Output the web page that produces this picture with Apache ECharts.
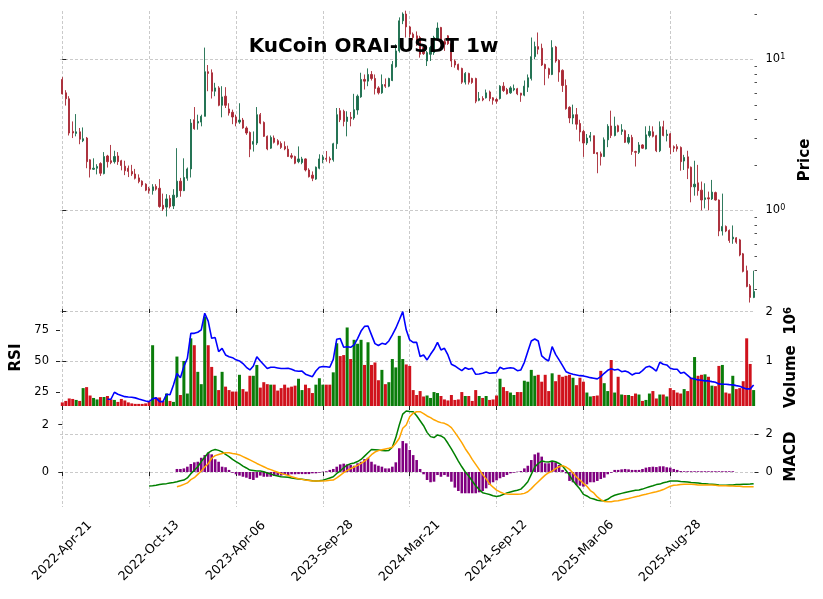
<!DOCTYPE html>
<html><head><meta charset="utf-8">
<script src="https://cdn.jsdelivr.net/npm/echarts@6/dist/echarts.min.js"></script>
<style>html,body{margin:0;padding:0;background:#fff}#c{width:823px;height:599px}</style>
</head><body><div id="c"></div>
<script>
// ---- tick labels (weekly candles, index of week) ----
const tickLabels = ['2022-Apr-21','2022-Oct-13','2023-Apr-06','2023-Sep-28','2024-Mar-21','2024-Sep-12','2025-Mar-06','2025-Aug-28'];
const tickWeeks = [0,25,50,75,100,125,150,175];

// ---- OHLC (USDT) ----
const opens = [
7.36,6.00,5.48,3.33,3.23,3.31,2.89,3.01,2.16,1.87,
1.90,2.04,1.75,2.29,2.13,2.10,2.29,2.13,1.96,1.90,
1.81,1.74,1.64,1.56,1.49,1.39,1.35,1.44,1.40,1.08,
1.05,1.20,1.07,1.23,1.56,1.35,1.63,1.88,3.98,3.78,
3.84,4.19,8.28,8.15,6.15,6.47,4.96,5.70,4.69,4.46,
4.15,3.84,3.96,3.51,3.28,2.74,2.79,4.30,3.82,3.09,
2.58,3.01,2.89,2.77,2.65,2.54,2.30,2.27,2.10,2.07,
2.19,1.85,1.71,1.61,1.90,2.16,2.21,2.20,2.16,2.76,
4.57,4.53,3.88,4.13,4.09,4.62,5.64,7.36,7.17,7.94,
7.47,6.47,6.00,6.81,6.64,7.24,8.94,11.37,18.0,19.95,
16.4,14.68,14.31,13.95,11.96,9.75,10.80,11.08,13.59,16.26,
13.1,14.31,12.7,9.75,9.26,8.71,7.06,8.07,7.47,7.47,
5.36,5.50,5.56,6.08,5.56,5.42,5.50,6.64,6.31,6.00,
6.28,6.38,5.97,5.79,6.54,7.47,10.42,12.14,11.84,9.26,
8.67,7.94,12.07,9.85,8.45,6.71,4.81,4.09,4.30,3.76,
3.33,2.79,3.04,3.12,2.41,2.37,2.27,2.93,3.62,3.13,
3.63,3.33,3.37,2.82,3.04,2.45,2.42,2.71,2.55,3.13,
3.31,3.12,2.48,3.58,3.13,3.21,2.64,2.64,2.61,2.12,
2.26,1.93,1.43,1.52,1.36,1.18,1.21,1.19,1.31,1.17,
0.729,0.782,0.736,0.647,0.657,0.637,0.515,0.398,0.316,0.265];
const closes = [
5.90,5.48,3.25,3.25,3.31,2.96,2.98,2.10,1.87,1.90,
1.95,1.76,2.27,2.10,2.07,2.27,2.10,1.98,1.83,1.81,
1.74,1.63,1.55,1.47,1.36,1.35,1.43,1.38,1.06,1.02,
1.19,1.06,1.26,1.56,1.35,1.65,1.88,3.78,3.47,3.88,
4.19,8.28,8.07,6.15,6.47,4.96,5.64,4.96,4.41,4.15,
3.80,3.96,3.51,3.25,2.54,2.86,4.30,3.78,3.09,2.55,
3.04,2.82,2.74,2.61,2.55,2.27,2.25,2.05,2.19,2.19,
1.85,1.67,1.63,1.93,2.19,2.25,2.18,2.16,2.76,4.30,
3.98,3.88,4.15,4.05,4.64,5.70,7.36,7.17,7.94,7.47,
6.41,6.00,6.81,6.64,7.47,9.26,11.37,18.0,19.95,16.4,
14.68,13.95,12.59,10.80,10.9,11.08,11.96,13.95,16.1,12.92,
12.59,12.7,9.75,9.17,8.58,7.06,8.07,7.06,7.03,5.28,
5.50,5.39,6.00,5.50,5.36,5.28,6.64,6.21,5.91,6.47,
6.41,5.91,5.79,6.64,7.55,10.42,12.14,11.66,9.17,8.67,
7.94,11.96,9.75,8.23,6.71,4.71,4.09,4.30,3.72,3.30,
2.79,3.01,3.12,2.38,2.36,2.27,2.93,3.60,3.13,3.60,
3.33,3.42,2.82,3.04,2.45,2.42,2.71,2.58,3.16,3.33,
3.09,2.48,3.58,3.13,3.19,2.61,2.58,2.55,2.10,2.24,
1.90,1.43,1.49,1.35,1.17,1.21,1.19,1.32,1.17,0.729,
0.782,0.729,0.631,0.664,0.615,0.506,0.394,0.313,0.265,0.29];
const highs = [
7.62,6.25,5.70,3.88,4.34,3.51,3.54,3.06,2.18,2.21,
2.02,2.08,2.43,2.33,2.71,2.48,2.43,2.16,2.13,1.98,
2.00,1.88,1.73,1.58,1.51,1.43,1.49,1.49,1.61,1.29,
1.28,1.26,1.38,2.58,1.64,2.21,1.92,4.02,4.83,4.30,
4.30,11.96,9.17,8.58,6.99,6.64,6.64,6.54,5.12,4.64,
4.30,5.12,4.09,3.60,3.33,3.33,4.83,4.41,3.88,3.13,
3.13,3.13,2.96,2.86,2.86,2.68,2.39,2.30,2.65,2.26,
2.21,1.90,1.81,1.95,2.35,2.33,2.47,2.27,2.80,4.76,
4.76,4.64,4.53,4.48,5.91,5.85,8.15,7.94,8.71,8.36,
7.94,6.64,7.94,7.47,7.55,9.75,12.59,18.96,20.47,21.0,
16.68,15.06,15.3,14.31,12.27,11.37,12.27,14.31,17.55,16.4,
13.73,14.45,12.92,10.0,9.36,8.80,8.23,8.15,7.55,7.55,
6.08,5.70,6.31,6.21,5.62,5.56,6.74,7.06,6.47,6.64,
6.81,6.47,6.00,7.24,7.94,13.95,13.1,15.06,12.7,9.36,
8.80,13.38,12.27,10.0,8.58,7.36,4.89,5.01,4.76,3.98,
3.42,3.20,3.30,3.12,2.43,2.45,3.04,3.72,4.57,4.17,
3.69,3.72,3.42,3.20,3.16,2.48,2.83,2.74,3.60,3.63,
3.60,3.16,3.88,3.92,3.42,3.25,2.69,2.74,2.65,2.33,
2.48,1.95,2.13,2.00,1.55,1.51,1.33,1.59,1.33,1.18,
1.29,0.794,0.747,0.794,0.664,0.647,0.522,0.430,0.325,0.398];
const lows = [
5.85,4.94,3.13,3.01,3.09,2.74,2.83,1.90,1.65,1.85,
1.73,1.69,1.73,1.92,2.02,2.04,2.00,1.84,1.71,1.66,
1.69,1.60,1.51,1.43,1.34,1.29,1.27,1.35,1.04,0.99,
0.91,1.03,1.02,1.21,1.23,1.34,1.57,1.65,3.42,3.42,
3.60,4.19,6.15,5.50,5.70,4.89,4.13,4.76,4.24,3.72,
3.60,3.74,3.47,3.16,2.25,2.45,2.71,3.72,3.06,2.50,
2.55,2.77,2.69,2.55,2.50,2.26,2.19,2.02,2.05,2.02,
1.81,1.65,1.56,1.59,1.87,2.05,2.10,2.05,2.10,2.55,
3.84,3.60,3.09,3.60,3.98,4.30,5.56,6.31,6.64,7.24,
5.85,5.85,5.91,6.47,6.54,7.17,8.80,11.08,17.11,13.95,
13.95,13.38,12.27,10.26,10.7,9.03,9.75,10.7,13.25,12.59,
11.37,12.46,8.89,8.80,8.45,6.88,6.81,6.81,6.88,5.12,
5.28,5.28,5.50,5.28,5.01,5.09,5.42,6.08,5.85,5.91,
6.15,5.79,5.23,5.70,6.08,7.24,10.0,10.80,9.03,6.74,
7.47,7.86,9.50,7.10,6.08,4.64,3.78,3.72,3.42,2.86,
2.26,2.71,2.86,2.36,1.76,1.98,2.26,2.62,3.01,3.09,
3.28,3.16,2.79,2.74,2.33,1.95,2.36,2.55,2.53,3.04,
3.04,2.43,2.43,3.09,2.86,2.35,2.43,2.45,1.83,1.85,
1.61,1.13,1.25,1.25,1.00,1.03,1.00,1.17,1.16,0.674,
0.681,0.717,0.609,0.600,0.600,0.496,0.388,0.309,0.245,0.262];

// ---- volume (millions of ORAI) ----
const volumes = [
0.16,0.19,0.24,0.23,0.21,0.19,0.45,0.47,0.30,0.25,
0.22,0.27,0.27,0.29,0.22,0.21,0.17,0.23,0.20,0.16,
0.14,0.13,0.13,0.13,0.14,0.17,1.32,0.26,0.26,0.19,
0.34,0.19,0.17,1.09,0.31,1.00,0.34,1.46,1.32,0.78,
0.53,1.90,1.32,0.88,0.70,0.41,0.78,0.48,0.41,0.38,
0.38,0.72,0.43,0.38,0.70,0.70,0.92,0.46,0.57,0.53,
0.52,0.52,0.40,0.45,0.52,0.46,0.48,0.50,0.64,0.41,
0.52,0.45,0.35,0.52,0.65,0.52,0.52,0.52,0.77,1.36,
1.10,1.12,1.68,1.04,1.43,1.35,1.43,0.92,1.38,0.92,
0.97,0.61,0.82,0.53,0.57,1.04,0.87,1.51,1.04,0.93,
0.90,0.41,0.31,0.39,0.28,0.30,0.25,0.37,0.35,0.29,
0.22,0.20,0.31,0.21,0.22,0.37,0.29,0.29,0.19,0.41,
0.29,0.25,0.29,0.21,0.22,0.30,0.64,0.47,0.39,0.36,
0.31,0.37,0.37,0.60,0.58,0.82,0.70,0.72,0.58,0.72,
0.39,0.75,0.59,0.72,0.68,0.70,0.72,0.66,0.51,0.66,
0.58,0.36,0.28,0.29,0.30,0.80,0.55,0.39,1.02,0.36,
0.68,0.32,0.31,0.31,0.29,0.34,0.32,0.19,0.21,0.34,
0.39,0.24,0.32,0.32,0.28,0.45,0.41,0.36,0.34,0.43,
0.39,0.66,1.08,0.70,0.72,0.73,0.68,0.50,0.49,0.90,
0.92,0.36,0.34,0.70,0.43,0.45,0.59,1.46,0.94,0.41];

// ---- RSI (14), starts at week 13 ----
const rsiStart = 13;
const rsiVals = [
19.4,19.4,25.0,23.4,22.5,21.5,21.2,21.0,20.5,19.6,18.8,18.0,17.5,19.8,20.5,17.5,17.5,
23.4,23.0,30.9,40.0,36.7,45.6,52.2,72.2,72.2,73.1,75.0,88.3,82.0,68.2,68.8,57.6,60.2,
54.9,53.5,52.7,51.0,50.1,48.0,45.0,42.9,46.0,53.5,50.0,47.0,44.0,45.0,45.0,44.5,44.0,
44.0,44.2,43.5,42.3,41.8,42.0,39.5,38.5,37.5,42.0,45.0,45.6,45.4,45.0,51.4,67.5,68.0,
61.0,61.4,61.0,63.0,68.0,74.0,77.8,78.1,71.0,64.0,62.5,64.2,63.4,66.1,70.9,76.3,82.9,
89.6,75.0,66.9,65.0,65.0,53.6,54.9,50.9,55.4,59.4,65.0,58.9,60.2,54.9,47.4,46.1,44.2,
42.3,44.7,43.4,44.2,39.4,39.6,40.2,41.2,40.2,40.5,40.7,45.0,43.6,44.2,44.7,44.2,42.3,
42.9,49.0,57.6,66.1,67.7,66.1,54.1,51.7,50.1,61.6,55.4,50.9,46.3,41.5,40.2,39.4,38.9,
38.3,38.1,37.5,36.7,36.2,35.7,37.5,40.2,42.6,43.9,42.9,43.4,41.5,42.0,41.0,38.9,40.2,
40.2,42.3,45.0,45.8,44.2,42.0,49.0,47.4,46.9,44.2,43.4,43.4,40.2,41.0,38.6,36.2,35.7,
34.9,34.6,34.1,34.1,33.5,33.0,31.7,31.4,31.4,31.1,30.9,30.3,29.8,28.7,27.7,27.7,30.9];

// ---- MACD line, starts at week 25 ----
const macdStart = 25;
const macdVals = [
-0.59,-0.58,-0.56,-0.53,-0.51,-0.49,-0.46,-0.44,-0.41,-0.37,-0.34,-0.25,-0.07,0.07,0.22,
0.44,0.62,0.81,0.90,0.95,0.91,0.85,0.74,0.65,0.53,0.44,0.35,0.25,0.17,0.08,0.06,0.04,
0.04,0.01,-0.04,-0.08,-0.14,-0.17,-0.20,-0.21,-0.22,-0.25,-0.27,-0.29,-0.31,-0.33,-0.35,
-0.37,-0.38,-0.37,-0.35,-0.30,-0.25,-0.20,-0.06,0.04,0.18,0.29,0.35,0.38,0.44,0.53,0.67,
0.81,0.95,0.94,0.93,0.91,0.90,0.91,1.04,1.45,1.98,2.44,2.57,2.55,2.54,2.37,2.16,1.95,
1.67,1.49,1.45,1.56,1.52,1.43,1.21,0.97,0.72,0.46,0.22,0.00,-0.17,-0.38,-0.58,-0.74,
-0.87,-0.91,-0.95,-1.00,-1.03,-1.00,-0.94,-0.88,-0.84,-0.80,-0.77,-0.72,-0.58,-0.41,-0.10,
0.21,0.36,0.46,0.43,0.42,0.46,0.43,0.36,0.25,0.06,-0.13,-0.37,-0.55,-0.72,-0.94,-1.01,
-1.10,-1.14,-1.19,-1.21,-1.21,-1.15,-1.05,-0.98,-0.94,-0.90,-0.86,-0.83,-0.80,-0.77,-0.76,
-0.72,-0.67,-0.62,-0.58,-0.53,-0.51,-0.45,-0.42,-0.38,-0.38,-0.38,-0.40,-0.41,-0.42,-0.44,
-0.45,-0.46,-0.48,-0.49,-0.51,-0.52,-0.53,-0.55,-0.56,-0.56,-0.55,-0.55,-0.53,-0.53,-0.52,
-0.52,-0.51,-0.49];

// ---- signal line, starts at week 33 ----
const signalStart = 33;
const signalVals = [
-0.62,-0.58,-0.52,-0.46,-0.32,-0.24,-0.10,0.04,0.21,0.35,0.58,0.69,0.74,0.78,0.81,0.81,
0.78,0.76,0.72,0.65,0.58,0.51,0.44,0.36,0.29,0.22,0.15,0.10,0.04,-0.01,-0.06,-0.10,-0.15,
-0.20,-0.24,-0.28,-0.31,-0.34,-0.36,-0.38,-0.38,-0.38,-0.38,-0.37,-0.35,-0.34,-0.25,-0.14,
-0.03,0.07,0.14,0.21,0.28,0.36,0.46,0.58,0.73,0.84,0.90,0.94,0.97,1.00,1.04,1.21,1.42,
1.84,1.98,2.33,2.48,2.54,2.54,2.46,2.36,2.29,2.20,2.13,2.08,2.05,1.98,1.87,1.67,1.46,
1.24,0.98,0.77,0.53,0.32,0.11,-0.11,-0.29,-0.50,-0.64,-0.76,-0.84,-0.90,-0.93,-0.94,-0.94,
-0.94,-0.93,-0.90,-0.83,-0.70,-0.55,-0.41,-0.27,-0.13,-0.03,0.04,0.14,0.22,0.27,0.21,0.11,
-0.04,-0.21,-0.34,-0.48,-0.60,-0.78,-0.88,-1.05,-1.16,-1.24,-1.25,-1.25,-1.22,-1.21,-1.18,
-1.15,-1.12,-1.08,-1.04,-1.01,-0.97,-0.94,-0.90,-0.86,-0.83,-0.79,-0.74,-0.67,-0.60,-0.56,
-0.55,-0.53,-0.52,-0.52,-0.52,-0.53,-0.55,-0.55,-0.55,-0.55,-0.55,-0.56,-0.58,-0.58,-0.58,
-0.59,-0.59,-0.60,-0.60,-0.62,-0.62,-0.62,-0.62];

// ---- MACD histogram, starts at week 33 ----
const histStart = 33;
const histVals = [
0.16,0.16,0.19,0.28,0.42,0.51,0.54,0.75,0.89,1.02,0.93,0.67,0.54,0.28,0.25,0.11,-0.04,
-0.12,-0.19,-0.25,-0.30,-0.37,-0.42,-0.30,-0.19,-0.25,-0.25,-0.25,-0.21,-0.19,-0.19,-0.16,
-0.16,-0.12,-0.12,-0.11,-0.11,-0.11,-0.11,-0.07,-0.07,-0.04,0.02,0.04,0.11,0.16,0.28,0.40,
0.44,0.40,0.37,0.33,0.46,0.54,0.68,0.75,0.54,0.40,0.33,0.28,0.19,0.19,0.28,0.51,1.25,1.63,
1.51,1.16,0.89,0.63,0.16,-0.12,-0.42,-0.54,-0.51,-0.16,-0.25,-0.16,-0.25,-0.51,-0.82,-1.00,
-1.12,-1.12,-1.12,-1.12,-1.12,-1.07,-1.00,-0.86,-0.68,-0.54,-0.44,-0.33,-0.26,-0.16,-0.07,
-0.04,0.02,0.05,0.19,0.33,0.63,0.93,1.02,0.81,0.46,0.46,0.58,0.51,0.37,0.11,-0.07,-0.47,
-0.54,-0.68,-0.72,-0.77,-0.65,-0.54,-0.54,-0.47,-0.37,-0.30,-0.12,-0.04,0.11,0.11,0.14,
0.16,0.14,0.11,0.11,0.11,0.16,0.23,0.26,0.28,0.26,0.30,0.30,0.25,0.23,0.16,0.11,0.05,
0.04,0.04,0.04,0.04,0.04,0.04,0.04,0.04,0.04,0.04,0.04,0.04,0.04,0.04,0.04];

// ---------------- build ----------------
const FONT = 'DejaVu Sans';
const upC = '#1a6c4c', dnC = '#a82834';
const volUp = '#0a7d0a', volDn = '#d0121c';
const gridLine = {show: true, lineStyle: {color: '#bdbdbd', type: [3, 2], width: 0.8}};
const XMIN = -0.66, XMAX = 199.25;

function series(start, vals) { return vals.map((v, k) => [start + k, v]); }

function xAx(g, labels) {
  return {
    type: 'value', gridIndex: g, min: XMIN, max: XMAX,
    axisLine: {show: false},
    axisTick: {show: true, customValues: tickWeeks, length: 4, lineStyle: {color: '#222', width: 1}},
    axisLabel: {show: labels, customValues: tickWeeks, rotate: 45, align: 'center', verticalAlign: 'middle', margin: 44,
      fontFamily: FONT, fontSize: 12.6, color: '#000',
      formatter: v => tickLabels[tickWeeks.indexOf(Math.round(v))] || ''},
    splitLine: gridLine
  };
}
const lab = {fontFamily: FONT, fontSize: 11.5, color: '#000', margin: 11};
const tick = {show: true, length: 4, lineStyle: {color: '#222', width: 1}};
const nameStyle = {fontFamily: FONT, fontSize: 15, fontWeight: 'bold', color: '#000'};
const minorPrice = [0.3,0.4,0.5,0.6,0.7,0.8,0.9,2,3,4,5,6,7,8,9,20];

const candleData = opens.map((o, i) => [i, o, closes[i], lows[i], highs[i]]);
const volData = volumes.map((v, i) => ({value: [i, v], itemStyle: {color: closes[i] >= opens[i] ? volUp : volDn}}));

const option = {
  animation: false,
  backgroundColor: '#fff',
  grid: [
    {left: 60, right: 68.5, top: 11, height: 298, outerBoundsMode: 'none'},
    {left: 60, right: 68.5, top: 309, height: 97, outerBoundsMode: 'none'},
    {left: 60, right: 68.5, top: 406, height: 101, outerBoundsMode: 'none'}
  ],
  xAxis: [xAx(0, false), xAx(1, false), xAx(2, true)],
  yAxis: [
    {gridIndex: 0, type: 'log', logBase: 10, position: 'right', min: 0.222, max: 20.9,
     axisLine: {show: false}, axisTick: Object.assign({customValues: [1, 10]}, tick),
     axisLabel: Object.assign({customValues: [1, 10], formatter: v => '10{s|' + Math.round(Math.log10(v)) + '}',
       rich: {s: {fontFamily: FONT, fontSize: 8, verticalAlign: 'top', lineHeight: 8, color: '#000'}}}, lab),
     splitLine: gridLine,
     name: 'Price', nameLocation: 'middle', nameRotate: 90, nameGap: 43, nameTextStyle: nameStyle},
    {gridIndex: 0, type: 'log', logBase: 10, position: 'right', min: 0.222, max: 20.9,
     axisLine: {show: false}, axisTick: {show: true, customValues: minorPrice, length: 2.5, lineStyle: {color: '#222', width: 0.8}},
     axisLabel: {show: false}, splitLine: {show: false}},
    {gridIndex: 1, type: 'value', position: 'right', min: 0.087, max: 2.055,
     axisLine: {show: false}, axisTick: Object.assign({customValues: [1, 2]}, tick),
     axisLabel: Object.assign({customValues: [1, 2]}, lab), splitLine: gridLine,
     name: 'Volume  10{s|6}', nameLocation: 'middle', nameRotate: 90, nameGap: 25,
     nameTextStyle: Object.assign({rich: {s: {fontFamily: FONT, fontSize: 10, fontWeight: 'bold', verticalAlign: 'top', lineHeight: 9, color: '#000'}}}, nameStyle)},
    {gridIndex: 1, type: 'value', position: 'left', min: 14.0, max: 91.7,
     axisLine: {show: false}, axisTick: Object.assign({customValues: [25, 50, 75]}, tick),
     axisLabel: Object.assign({customValues: [25, 50, 75]}, lab), splitLine: {show: false},
     name: 'RSI', nameLocation: 'middle', nameRotate: 90, nameGap: 33, nameTextStyle: nameStyle},
    {gridIndex: 2, type: 'value', position: 'left', min: -1.474, max: 2.78,
     axisLine: {show: false}, axisTick: Object.assign({customValues: [0, 2]}, tick),
     axisLabel: Object.assign({customValues: [0, 2]}, lab), splitLine: {show: false}},
    {gridIndex: 2, type: 'value', position: 'right', min: -1.842, max: 3.474,
     axisLine: {show: false}, axisTick: Object.assign({customValues: [0, 2]}, tick),
     axisLabel: Object.assign({customValues: [0, 2]}, lab), splitLine: gridLine,
     name: 'MACD', nameLocation: 'middle', nameRotate: 90, nameGap: 25, nameTextStyle: nameStyle}
  ],
  graphic: [{type: 'text', x: 373.5, y: 47, z: 100,
    style: {text: 'KuCoin ORAI-USDT 1w', font: 'bold 20px "DejaVu Sans"', fill: '#000', align: 'center', verticalAlign: 'middle'}}],
  series: [
    {type: 'candlestick', xAxisIndex: 0, yAxisIndex: 0, data: candleData, barWidth: 1.7,
     itemStyle: {color: upC, color0: dnC, borderColor: upC, borderColor0: dnC, borderWidth: 0.9}},
    {type: 'bar', xAxisIndex: 1, yAxisIndex: 2, data: volData, barWidth: 3.0},
    {type: 'line', xAxisIndex: 1, yAxisIndex: 3, data: series(rsiStart, rsiVals), showSymbol: false,
     lineStyle: {color: '#0000ff', width: 1.6}, itemStyle: {color: '#0000ff'}},
    {type: 'bar', xAxisIndex: 2, yAxisIndex: 5, data: series(histStart, histVals), barWidth: 2.6,
     itemStyle: {color: '#800080'}},
    {type: 'line', xAxisIndex: 2, yAxisIndex: 4, data: series(macdStart, macdVals), showSymbol: false,
     lineStyle: {color: '#008000', width: 1.5}, itemStyle: {color: '#008000'}},
    {type: 'line', xAxisIndex: 2, yAxisIndex: 4, data: series(signalStart, signalVals), showSymbol: false,
     lineStyle: {color: '#ffa500', width: 1.5}, itemStyle: {color: '#ffa500'}}
  ]
};
echarts.init(document.getElementById('c'), null, {renderer: 'canvas'}).setOption(option);
</script></body></html>
